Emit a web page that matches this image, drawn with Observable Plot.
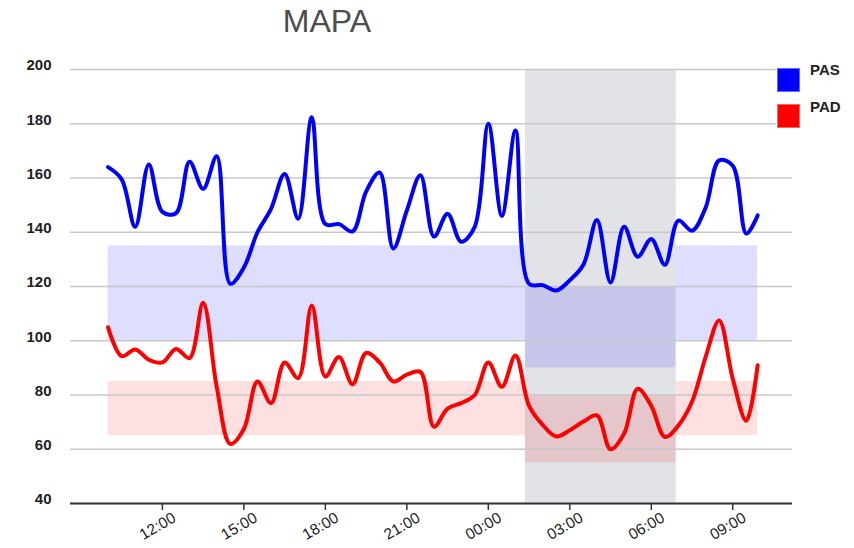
<!DOCTYPE html>
<html>
<head>
<meta charset="utf-8">
<script src="https://cdn.jsdelivr.net/npm/d3@7"></script>
<script src="https://cdn.jsdelivr.net/npm/@observablehq/plot@0.6"></script>
<style>
  body { margin: 0; background: #fff; font-family: "Liberation Sans", Arial, sans-serif; }
  #wrap { position: relative; width: 854px; height: 548px; overflow: hidden; }
  #chart { position: absolute; left: 0; top: 0; }
  #title { position: absolute; left: 227px; width: 200px; top: 5px; text-align: center;
           font-size: 32px; line-height: 32px; color: #4d4d4d; }
  #legend { position: absolute; left: 776px; top: 60px; width: 78px; height: 74px; background: #fff; }
  .sw { position: absolute; left: 1px; width: 21px; height: 22px; border: 1px solid; }
  .lab { position: absolute; left: 34px; font-size: 15px; line-height: 15px; font-weight: bold; color: #222; }
</style>
</head>
<body>
<div id="wrap">
  <div id="chart"></div>
  <div id="title">MAPA</div>
  <div id="legend"></div>
</div>
<script>
// ---- data ----
const times = ["10:00","10:30","11:00","11:30","12:00","12:30","13:00","13:30","14:00","14:30",
  "15:00","15:30","16:00","16:30","17:00","17:30","18:00","18:30","19:00","19:30",
  "20:00","20:30","21:00","21:30","22:00","22:30","23:00","23:30","00:00","00:30",
  "01:00","01:30","02:00","02:30","03:00","03:30","04:00","04:30","05:00","05:30",
  "06:00","06:30","07:00","07:30","08:00","08:30","09:00","09:30","09:55"];
const pas = [164,159.5,142,165,147.5,147,166,156,168,121,
  127,140,148.6,161.5,145,182.4,143,143,140.3,155,
  162,134,148,161,138.4,146.8,136.5,142,180,146,
  177.5,121,120.5,118.5,122.3,128,144.5,121.5,142,131,
  137.5,128,144.3,140.6,149,166.5,164.5,139.5,146.2];
const pad = [105,94.3,96.8,93,92,97,93.6,114,83,62,
  67.5,85,77,92,86.2,113,86.8,94,84,95.5,
  92,85,87.5,88.5,68.3,75,77,80,92,83,
  94.6,76,69,64.7,67,70.2,72.5,60,65.8,82.3,
  76,64.5,68.8,77.5,94,107.5,86,70.5,91];
const seriesNames = ["PAS", "PAD"];
const seriesColors = ["#0000ff", "#ff0000"];
const tickLabels = ["12:00","15:00","18:00","21:00","00:00","03:00","06:00","09:00"];
const yTicks = [40, 60, 80, 100, 120, 140, 160, 180, 200];
const xDomain = [["08:37", 1], ["11:12", 2]];
const periods = { dayStart: ["10:00", 1], nightStart: ["01:22", 2], nightEnd: ["06:55", 2], dayEnd: ["09:55", 2] };
const pasDayRange = [100, 135];
const padDayRange = [65, 85];
const pasNightRange = [90, 120];
const padNightRange = [55, 80];

// ---- helpers ----
function at(s, day) {
  const [h, m] = s.split(":").map(Number);
  return new Date(Date.UTC(2024, 2, 10 + day, h, m));
}
function withDays(list) {
  let day = 1, prev = -1;
  return list.map(s => {
    const h = +s.split(":")[0];
    if (h < prev) day = 2;
    prev = h;
    return at(s, day);
  });
}
const dates = withDays(times);
const data = dates.map((t, i) => ({ time: t, pas: pas[i], pad: pad[i] }));
const ticks = withDays(tickLabels);
const P = k => at(periods[k][0], periods[k][1]);

const bands = [
  { x1: P("dayStart"), x2: P("nightStart"), y1: pasDayRange[0], y2: pasDayRange[1], c: "blue", o: 0.13 },
  { x1: P("nightEnd"), x2: P("dayEnd"), y1: pasDayRange[0], y2: pasDayRange[1], c: "blue", o: 0.13 },
  { x1: P("dayStart"), x2: P("nightStart"), y1: padDayRange[0], y2: padDayRange[1], c: "red", o: 0.12 },
  { x1: P("nightEnd"), x2: P("dayEnd"), y1: padDayRange[0], y2: padDayRange[1], c: "red", o: 0.12 },
  { x1: P("nightStart"), x2: P("nightEnd"), y1: pasNightRange[0], y2: pasNightRange[1], c: "blue", o: 0.12 },
  { x1: P("nightStart"), x2: P("nightEnd"), y1: padNightRange[0], y2: padNightRange[1], c: "red", o: 0.12 }
];

const chart = Plot.plot({
  width: 854,
  height: 548,
  marginLeft: 70,
  marginRight: 62,
  marginTop: 69,
  marginBottom: 45,
  style: { fontFamily: "'Liberation Sans', Arial, sans-serif", background: "transparent" },
  x: { type: "time", domain: xDomain.map(d => at(d[0], d[1])) },
  y: { domain: [40, 200] },
  marks: [
    Plot.rect([{ x1: P("nightStart"), x2: P("nightEnd") }], { x1: "x1", x2: "x2", y1: 40, y2: 200, fill: "#e2e3e7" }),
    Plot.rect(bands, { x1: "x1", x2: "x2", y1: "y1", y2: "y2", fill: "c", fillOpacity: "o" }),
    Plot.gridY(yTicks, { stroke: "#c8c8c8", strokeOpacity: 1, strokeWidth: 1.5 }),
    Plot.line(data, { x: "time", y: "pas", stroke: seriesColors[0], strokeWidth: 4, curve: "catmull-rom" }),
    Plot.line(data, { x: "time", y: "pad", stroke: seriesColors[1], strokeWidth: 4, curve: "catmull-rom" }),
    Plot.ruleY([40], { stroke: "#333", strokeWidth: 2 }),
    Plot.axisY({ ticks: yTicks, tickSize: 0, tickPadding: 19, fontSize: 15, fontWeight: "bold", fill: "#222", dy: -4, label: null }),
    Plot.axisX({ ticks, tickSize: 7, fill: "none", stroke: "#333", strokeWidth: 1.5, label: null }),
    Plot.axisX({ ticks, tickSize: 0, tickPadding: 13, tickRotate: -30, dx: 12, fontSize: 15.5, fill: "#222",
                 tickFormat: d3.utcFormat("%H:%M"), label: null })
  ]
});
document.getElementById("chart").appendChild(chart);

// legend
const legend = document.getElementById("legend");
seriesNames.forEach((name, i) => {
  const sw = document.createElement("div");
  sw.className = "sw";
  sw.style.top = (8 + i * 36) + "px";
  sw.style.background = seriesColors[i];
  sw.style.borderColor = i === 0 ? "#6666ff" : "#ff6666";
  legend.appendChild(sw);
  const lb = document.createElement("div");
  lb.className = "lab";
  lb.style.top = (2 + i * 37) + "px";
  lb.textContent = name;
  legend.appendChild(lb);
});
</script>
</body>
</html>
